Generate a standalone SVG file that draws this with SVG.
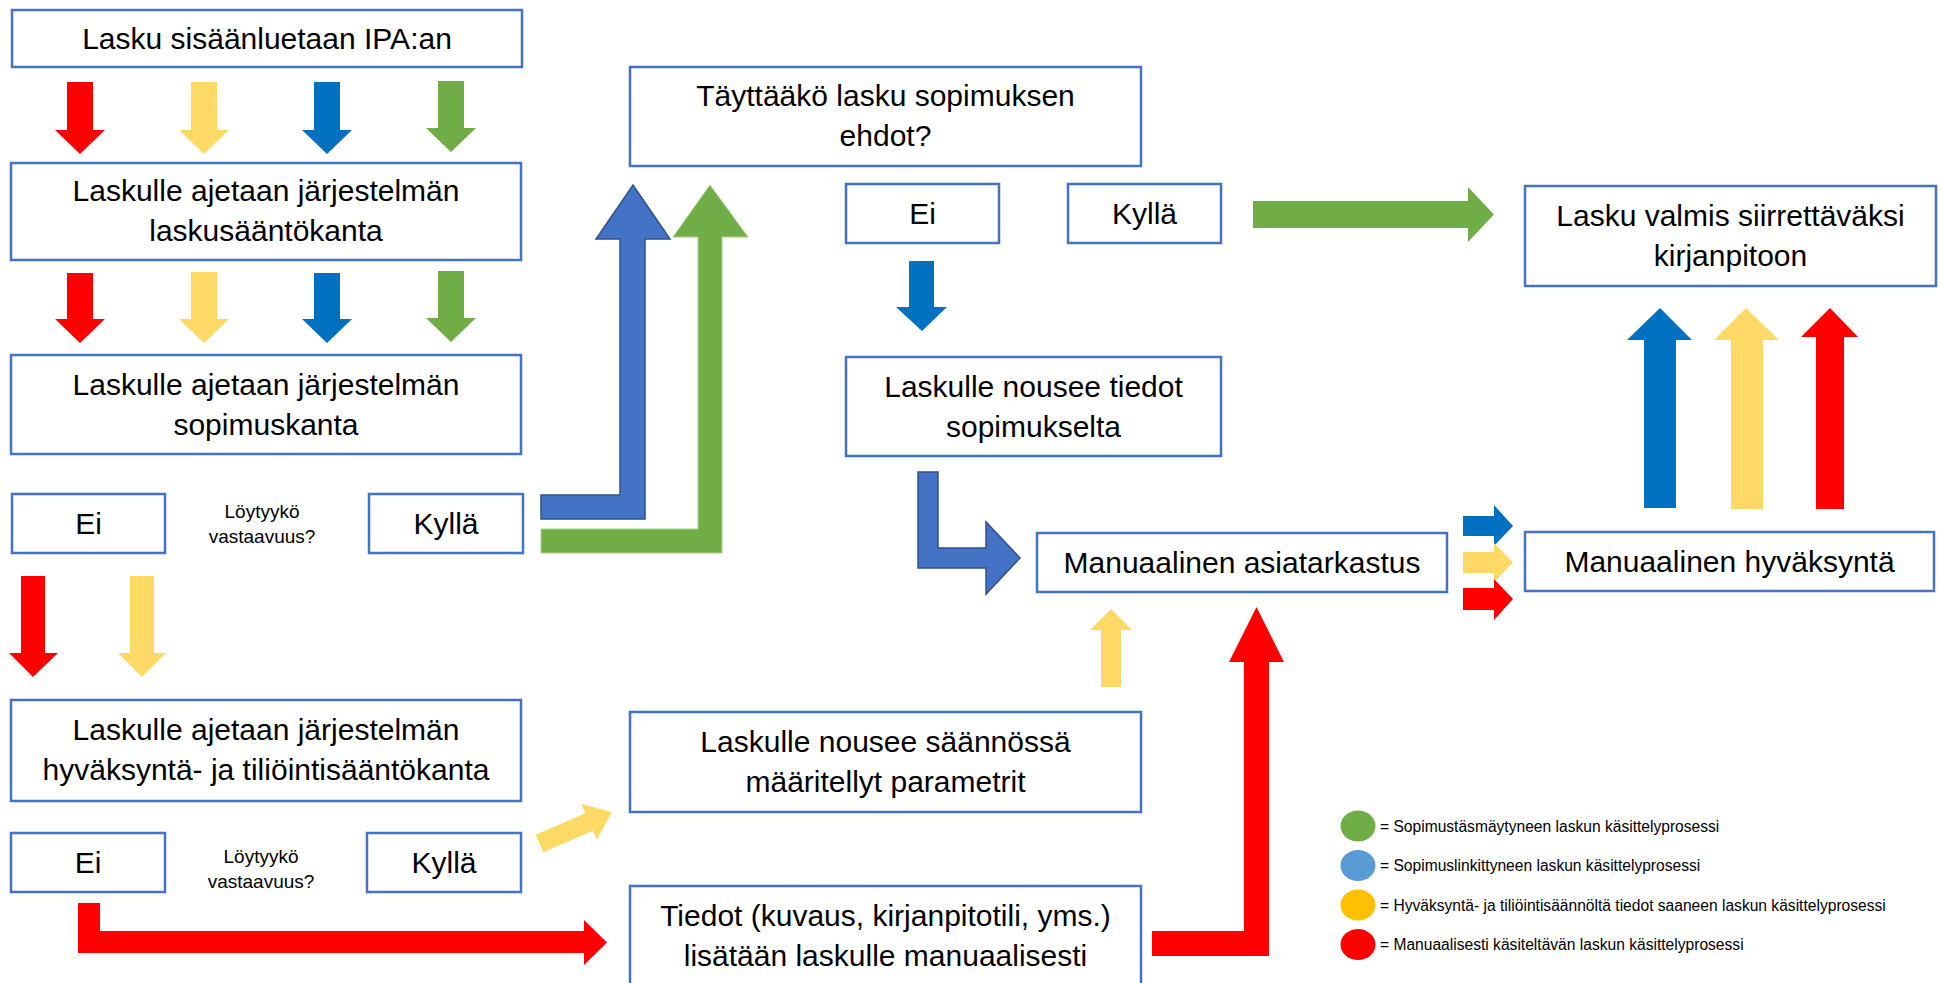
<svg xmlns="http://www.w3.org/2000/svg" width="1939" height="983" viewBox="0 0 1939 983">
<style>
.box{fill:#fff;stroke:#4472C4;stroke-width:2.5}
.t{font-family:"Liberation Sans",Arial,sans-serif;font-size:30px;fill:#000;text-anchor:middle}
.s{font-family:"Liberation Sans",Arial,sans-serif;font-size:19px;fill:#000;text-anchor:middle}
.lg{font-family:"Liberation Sans",Arial,sans-serif;font-size:15.6px;fill:#000}
.red{fill:#FF0000}
.yel{fill:#FFD966}
.blu{fill:#0070C0}
.grn{fill:#70AD47}
.bent{fill:#4472C4;stroke:#2F528F;stroke-width:1.5}
.bentg{fill:#70AD47;stroke:#A9D18E;stroke-width:1}
</style>
<rect width="1939" height="983" fill="#fff"/>
<g id="connectors">
<polygon class="red" points="67,82 93,82 93,130 105,130 80,154 55,130 67,130"/>
<polygon class="yel" points="191,82 217,82 217,130 229,130 204,154 179,130 191,130"/>
<polygon class="blu" points="314,82 340,82 340,130 352,130 327,154 302,130 314,130"/>
<polygon class="grn" points="438,81 464,81 464,128 476,128 451,152 426,128 438,128"/>
<polygon class="red" points="67,273 93,273 93,319 105,319 80,343 55,319 67,319"/>
<polygon class="yel" points="191,272 217,272 217,319 229,319 204,343 179,319 191,319"/>
<polygon class="blu" points="314,273 340,273 340,319 352,319 327,343 302,319 314,319"/>
<polygon class="grn" points="438,271 464,271 464,318 476,318 451,342 426,318 438,318"/>
<polygon class="red" points="21,576 45,576 45,653 58,653 33,677 9,653 21,653"/>
<polygon class="yel" points="130,576 154,576 154,653 166,653 142,677 118,653 130,653"/>
<polygon class="bent" points="541,495 620,495 620,239 596,239 633,185 670,239 645,239 645,519 541,519"/>
<polygon class="bentg" points="541,529 698,529 698,237 673,237 710,185 748,237 722,237 722,553 541,553"/>
<polygon class="blu" points="909,261 934,261 934,307 947,307 922,331 896,307 909,307"/>
<polygon class="bent" points="918,472 938,472 938,548 986,548 986,522 1020,558 986,594 986,568 918,568"/>
<polygon class="grn" points="1253,201 1468,201 1468,187 1494,214.5 1468,242 1468,228 1253,228"/>
<polygon class="yel" points="1101,687 1101,630 1090,630 1111,609 1132,630 1121,630 1121,687"/>
<polygon class="yel" transform="translate(539.5,843.5) rotate(-23.5)" points="0,-9.5 54,-9.5 54,-19.5 79,0 54,19.5 54,9.5 0,9.5"/>
<polygon class="red" points="78,903 100,903 100,931 584,931 584,920 607,942.5 584,965 584,953 78,953"/>
<polygon class="red" points="1152,931 1244,931 1244,662 1229,662 1256.5,607 1284,662 1269,662 1269,956 1152,956"/>
<polygon class="blu" points="1463,516 1494,516 1494,505 1513,526 1494,546 1494,536 1463,536"/>
<polygon class="yel" points="1463,552 1494,552 1494,543 1513,562.5 1494,582 1494,573 1463,573"/>
<polygon class="red" points="1463,588 1494,588 1494,579 1513,599 1494,620 1494,610 1463,610"/>
<polygon class="blu" points="1644,508 1644,340 1627,340 1660,308 1692,340 1676,340 1676,508"/>
<polygon class="yel" points="1731,509 1731,340 1714,340 1746,308 1779,340 1763,340 1763,509"/>
<polygon class="red" points="1816,509 1816,337 1801,337 1830,308 1858,337 1844,337 1844,509"/>
</g>
<g id="n-ipa"><rect class="box" x="12" y="10" width="510" height="57"/><text class="t" x="267" y="49">Lasku sisäänluetaan IPA:an</text></g>
<g id="n-laskusaanto"><rect class="box" x="11" y="163" width="510" height="97"/><text class="t" x="266" y="201">Laskulle ajetaan järjestelmän</text><text class="t" x="266" y="241">laskusääntökanta</text></g>
<g id="n-sopimuskanta"><rect class="box" x="11" y="355" width="510" height="99"/><text class="t" x="266" y="395">Laskulle ajetaan järjestelmän</text><text class="t" x="266" y="435">sopimuskanta</text></g>
<g id="n-ei1"><rect class="box" x="12" y="494" width="153" height="59"/><text class="t" x="88.5" y="534">Ei</text></g>
<g id="n-q1"><text class="s" x="262" y="518">Löytyykö</text><text class="s" x="262" y="543">vastaavuus?</text></g>
<g id="n-kylla1"><rect class="box" x="369" y="494" width="154" height="59"/><text class="t" x="446" y="534">Kyllä</text></g>
<g id="n-hyvaksyntakanta"><rect class="box" x="11" y="700" width="510" height="101"/><text class="t" x="266" y="740">Laskulle ajetaan järjestelmän</text><text class="t" x="266" y="780">hyväksyntä- ja tiliöintisääntökanta</text></g>
<g id="n-ei2"><rect class="box" x="11" y="833" width="154" height="59"/><text class="t" x="88" y="873">Ei</text></g>
<g id="n-q2"><text class="s" x="261" y="863">Löytyykö</text><text class="s" x="261" y="888">vastaavuus?</text></g>
<g id="n-kylla2"><rect class="box" x="367" y="833" width="154" height="59"/><text class="t" x="444" y="873">Kyllä</text></g>
<g id="n-taytta"><rect class="box" x="630" y="67" width="511" height="99"/><text class="t" x="885.5" y="106">Täyttääkö lasku sopimuksen</text><text class="t" x="885.5" y="146">ehdot?</text></g>
<g id="n-ei3"><rect class="box" x="846" y="184" width="153" height="59"/><text class="t" x="922.5" y="224">Ei</text></g>
<g id="n-kylla3"><rect class="box" x="1068" y="184" width="153" height="59"/><text class="t" x="1144.5" y="224">Kyllä</text></g>
<g id="n-tiedot-sopimus"><rect class="box" x="846" y="357" width="375" height="99"/><text class="t" x="1033.5" y="397">Laskulle nousee tiedot</text><text class="t" x="1033.5" y="437">sopimukselta</text></g>
<g id="n-asiatarkastus"><rect class="box" x="1037" y="533" width="410" height="59"/><text class="t" x="1242" y="573">Manuaalinen asiatarkastus</text></g>
<g id="n-saannossa"><rect class="box" x="630" y="712" width="511" height="100"/><text class="t" x="885.5" y="752">Laskulle nousee säännössä</text><text class="t" x="885.5" y="792">määritellyt parametrit</text></g>
<g id="n-tiedot-manuaali"><rect class="box" x="630" y="886" width="511" height="104"/><text class="t" x="885.5" y="926">Tiedot (kuvaus, kirjanpitotili, yms.)</text><text class="t" x="885.5" y="966">lisätään laskulle manuaalisesti</text></g>
<g id="n-valmis"><rect class="box" x="1525" y="186" width="411" height="100"/><text class="t" x="1730.5" y="226">Lasku valmis siirrettäväksi</text><text class="t" x="1730.5" y="266">kirjanpitoon</text></g>
<g id="n-hyvaksynta"><rect class="box" x="1525" y="532" width="409" height="59"/><text class="t" x="1729.5" y="572">Manuaalinen hyväksyntä</text></g>
<g id="legend">
<ellipse cx="1358" cy="826" rx="17.5" ry="15.5" fill="#70AD47"/>
<text class="lg" x="1380" y="831.5">= Sopimustäsmäytyneen laskun käsittelyprosessi</text>
<ellipse cx="1358" cy="865.5" rx="17.5" ry="15.5" fill="#5B9BD5"/>
<text class="lg" x="1380" y="871">= Sopimuslinkittyneen laskun käsittelyprosessi</text>
<ellipse cx="1358" cy="905" rx="17.5" ry="15.5" fill="#FFC000"/>
<text class="lg" x="1380" y="910.5">= Hyväksyntä- ja tiliöintisäännöltä tiedot saaneen laskun käsittelyprosessi</text>
<ellipse cx="1358" cy="944.5" rx="17.5" ry="15.5" fill="#FF0000"/>
<text class="lg" x="1380" y="950">= Manuaalisesti käsiteltävän laskun käsittelyprosessi</text>
</g>
</svg>
